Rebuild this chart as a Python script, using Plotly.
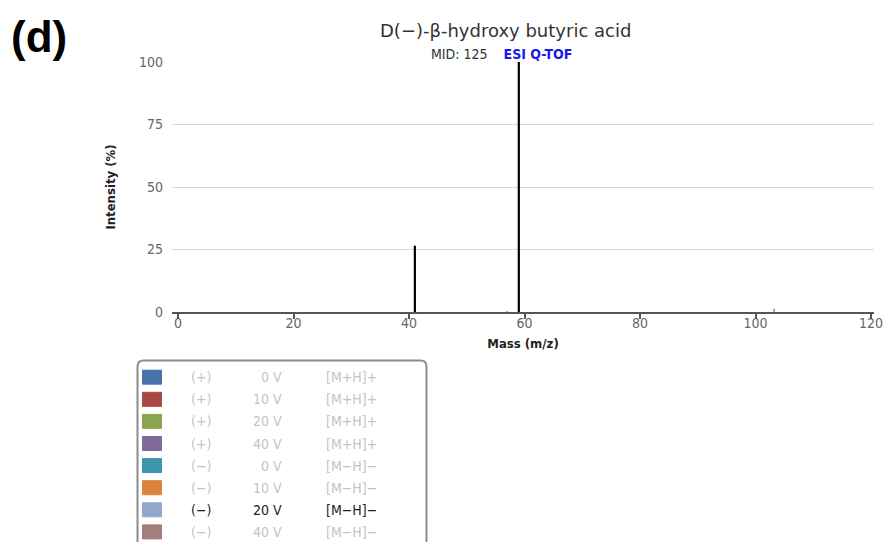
import plotly.graph_objects as go

# ---- data ----
peak_mz = [41.0, 59.0]
peak_int = [26.5, 100.0]
minor_mz = [57.0, 103.2]
minor_int = [0.4, 1.3]

y_ticks = [0, 25, 50, 75, 100]
x_ticks = [0, 20, 40, 60, 80, 100, 120]

leg_colors = ["#4572A7", "#AA4643", "#89A54E", "#80699B",
              "#3D96AE", "#DB843D", "#92A8CD", "#A47D7C"]
leg_polarity = ["(+)", "(+)", "(+)", "(+)", "(−)", "(−)", "(−)", "(−)"]
leg_voltage = ["0 V", "10 V", "20 V", "40 V", "0 V", "10 V", "20 V", "40 V"]
leg_adduct = ["[M+H]+", "[M+H]+", "[M+H]+", "[M+H]+",
              "[M−H]−", "[M−H]−", "[M−H]−", "[M−H]−"]
leg_selected = 6

title_text = "D(−)-β-hydroxy butyric acid"
mid_text = "MID: 125"
inst_text = "ESI Q-TOF"
panel_label = "(d)"

# ---- geometry helpers (pixel -> paper) ----
W, H = 884, 542
L, R, T, B = 172, 874, 62, 312
def px(x):
    return (x - L) / (R - L)
def py(y):
    return (B - y) / (B - T)

def stems(xs, ys):
    sx, sy = [], []
    for a, b in zip(xs, ys):
        sx += [a, a, None]
        sy += [0, b, None]
    return sx, sy

fig = go.Figure()
mx, my = stems(minor_mz, minor_int)
fig.add_trace(go.Scatter(x=mx, y=my, mode="lines",
                         line=dict(color="#92A8CD", width=2),
                         hoverinfo="skip", showlegend=False))
sx, sy = stems(peak_mz, peak_int)
fig.add_trace(go.Scatter(x=sx, y=sy, mode="lines",
                         line=dict(color="#000000", width=2.2),
                         hoverinfo="skip", showlegend=False))
# invisible trace for tick-only overlay axis
fig.add_trace(go.Scatter(x=[0], y=[0], xaxis="x2", mode="markers",
                         marker=dict(opacity=0), hoverinfo="skip",
                         showlegend=False))

tick_font = dict(family="Liberation Sans Narrow, DejaVu Sans Condensed, sans-serif",
                 size=14, color="#666666")
title_font = dict(family="Liberation Sans Narrow, DejaVu Sans Condensed, sans-serif",
                  size=13, color="#222222")

fig.update_layout(
    width=W, height=H,
    margin=dict(l=L, r=W - R, t=T, b=H - B, pad=0, autoexpand=False),
    paper_bgcolor="white", plot_bgcolor="white",
    xaxis=dict(range=[-1.05, 120.5], tickvals=x_ticks, ticks="",
               showgrid=False, zeroline=False, showline=True, automargin=False,
               linecolor="#555555", linewidth=2, tickfont=tick_font,
               ticklabelstandoff=-3,
               title=dict(text="<b>Mass (m/z)</b>", font=title_font, standoff=9)),
    xaxis2=dict(range=[-1.05, 120.5], overlaying="x", side="bottom",
                tickvals=x_ticks, ticks="outside", ticklen=6, automargin=False,
                tickcolor="#555555", tickwidth=1.5, showticklabels=False,
                showgrid=False, zeroline=False, showline=False),
    yaxis=dict(range=[0, 100], tickvals=y_ticks, ticks="", automargin=False,
               showgrid=True, gridcolor="#D8D8D8", gridwidth=1,
               zeroline=False, showline=False, tickfont=tick_font,
               ticklabelstandoff=8,
               title=dict(text="<b>Intensity (%)</b>", font=title_font, standoff=20)),
    showlegend=False,
)

annotations = []
shapes = []

def ann(text, x, y, font, xanchor="center"):
    annotations.append(dict(text=text, xref="paper", yref="paper",
                            x=px(x), y=py(y), xanchor=xanchor, yanchor="middle",
                            showarrow=False, font=font))

ann(title_text, 505, 30,
    dict(family="DejaVu Sans, sans-serif", size=18, color="#333333"))
ann(f"{mid_text}&nbsp;&nbsp;&nbsp;&nbsp;<span style='color:#1a1aee'><b>{inst_text}</b></span>",
    501, 54,
    dict(family="DejaVu Sans Condensed, DejaVu Sans, sans-serif", size=14, color="#333333"))
ann(f"<b>{panel_label}</b>", 39, 37,
    dict(family="Liberation Sans, Arial, sans-serif", size=44, color="#000000"))

# legend box (rounded, running off the bottom)
lx0, lx1, ly0, ly1 = 137.5, 426.5, 360.5, 560
r = 6
path = (f"M {px(lx0)},{py(ly1)} L {px(lx0)},{py(ly0 + r)} "
        f"Q {px(lx0)},{py(ly0)} {px(lx0 + r)},{py(ly0)} "
        f"L {px(lx1 - r)},{py(ly0)} "
        f"Q {px(lx1)},{py(ly0)} {px(lx1)},{py(ly0 + r)} "
        f"L {px(lx1)},{py(ly1)}")
shapes.append(dict(type="path", path=path, xref="paper", yref="paper",
                   line=dict(color="#8c8c8c", width=2)))

leg_font_family = "DejaVu Sans Condensed, DejaVu Sans, sans-serif"
for i, col in enumerate(leg_colors):
    cy = 377.2 + 22.1 * i
    shapes.append(dict(type="rect", xref="paper", yref="paper",
                       x0=px(142.5), x1=px(161.5), y0=py(cy - 7), y1=py(cy + 7),
                       fillcolor=col, line=dict(color=col, width=1)))
    tcol = "#222222" if i == leg_selected else "#c4c4c4"
    f = dict(family=leg_font_family, size=14, color=tcol)
    ann(leg_polarity[i], 201, cy, f, "center")
    ann(leg_voltage[i], 284, cy, f, "right")
    ann(leg_adduct[i], 324, cy, f, "left")

fig.update_layout(annotations=annotations, shapes=shapes)
fig.write_html("out.html", config={"displayModeBar": False},
               post_script="document.body.style.margin='0';document.body.style.overflow='hidden';")
